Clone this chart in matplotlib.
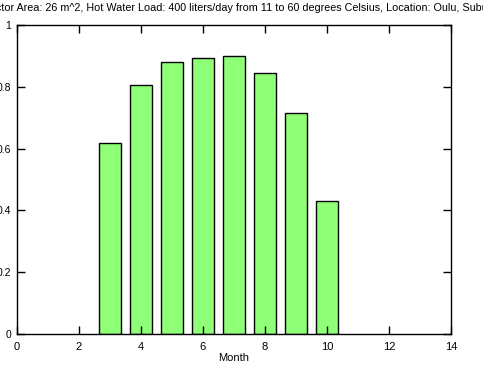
import matplotlib
matplotlib.use("Agg")
import matplotlib.pyplot as plt
from matplotlib.ticker import FuncFormatter

months = [3, 4, 5, 6, 7, 8, 9, 10]
solar_fraction = [0.618, 0.806, 0.880, 0.893, 0.900, 0.845, 0.715, 0.430]
title = ("Collector Area: 26 m^2, Hot Water Load: 400 liters/day from 11 to 60 "
         "degrees Celsius, Location: Oulu, Suburb")

plt.rcParams['font.family'] = ['Liberation Sans', 'DejaVu Sans']
plt.rcParams['font.size'] = 8

fig = plt.figure(figsize=(4.83, 3.81), dpi=100)
ax = fig.add_axes([17/483, 1-334/381, (451-17)/483, (334-25)/381])
ax.bar(months, solar_fraction, width=0.7, color='#90ff78', edgecolor='black', linewidth=1.0)
ax.set_xlim(0, 14)
ax.set_ylim(0, 1)
ax.set_xticks(range(0, 15, 2))
ax.set_yticks([0, 0.2, 0.4, 0.6, 0.8, 1.0])
ax.yaxis.set_major_formatter(FuncFormatter(lambda v, p: "%g" % v))
ax.tick_params(direction='in', length=6, width=1, top=True, right=True)
ax.tick_params(axis='x', pad=5.5, labelsize=8)
ax.tick_params(axis='y', pad=4, labelsize=7.5)
for s in ax.spines.values():
    s.set_linewidth(1.0)
ax.set_xlabel("Month", labelpad=1)
ax.set_title(title, pad=10, fontsize=7.75)
fig.savefig("out.png", dpi=100)
